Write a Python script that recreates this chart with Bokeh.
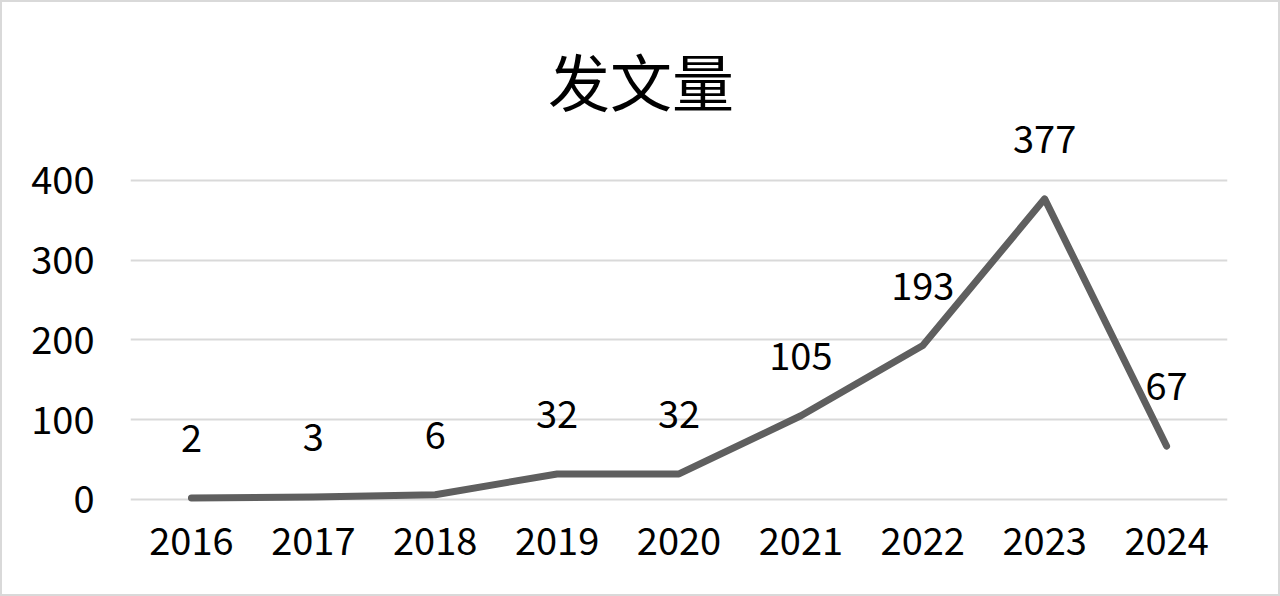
from bokeh.plotting import figure
from bokeh.layouts import column
from bokeh.models import Range1d, FactorRange, FixedTicker, ColumnDataSource
from bokeh.core.properties import value
from bokeh.embed import file_html
from bokeh.resources import INLINE

years = ["2016", "2017", "2018", "2019", "2020", "2021", "2022", "2023", "2024"]
counts = [2, 3, 6, 32, 32, 105, 193, 377, 67]
title_text = "发文量"
y_ticks = [0, 100, 200, 300, 400]

FONT = "Noto Sans CJK SC"

src = ColumnDataSource(dict(x=years, y=counts, lbl=[str(c) for c in counts]))

p = figure(width=1276, height=592, output_backend="svg", toolbar_location=None,
           x_range=FactorRange(*years), y_range=Range1d(-8.8, 623.2),
           min_border_left=128, min_border_right=51, min_border_top=0, min_border_bottom=88)
p.outline_line_color = None
p.background_fill_color = "white"
p.border_fill_color = "white"

p.xgrid.grid_line_color = None
p.ygrid.grid_line_color = "#d9d9d9"
p.ygrid.grid_line_width = 2
p.yaxis.ticker = FixedTicker(ticks=y_ticks)

for ax in (p.xaxis, p.yaxis):
    ax.axis_line_color = None
    ax.major_tick_line_color = None
    ax.minor_tick_line_color = None
    ax.major_label_text_font = FONT
    ax.major_label_text_font_size = "38px"
    ax.major_label_text_color = "black"
p.yaxis.major_label_standoff = 30
p.xaxis.major_label_standoff = 14

p.line("x", "y", source=src, line_color="#5f5f5f", line_width=7,
       line_cap="round", line_join="round")
p.text("x", "y", text="lbl", source=src, y_offset=-60, text_align="center",
       text_baseline="middle", text_font=value(FONT), text_font_size="38px",
       text_color="black")

# chart title, placed in the (empty) top of the frame
p.text(x=[years[4]], y=[526.6], text=[title_text], x_offset=-38, text_align="center",
       text_baseline="middle", text_font=value(FONT), text_font_size="62px",
       text_color="black")

layout = column(p, styles={"border": "2px solid #d9d9d9"})

open("out.html", "w").write(file_html(layout, INLINE))
